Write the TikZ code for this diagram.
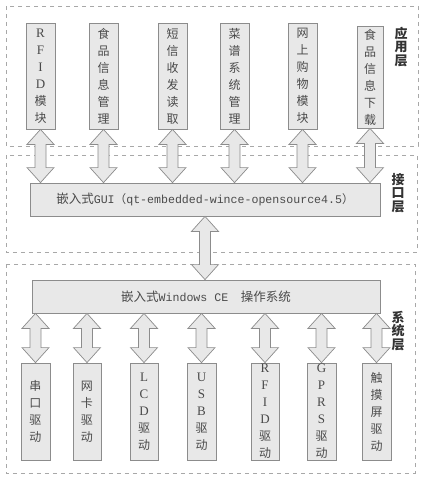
\documentclass[tikz,border=0pt]{standalone}
\usepackage{fontspec}
\setmainfont{Liberation Serif}
\newfontfamily\cjk{Noto Sans CJK SC}
\newfontfamily\monof{Liberation Mono}
\usetikzlibrary{calc}
\definecolor{boxfill}{HTML}{E8E8E8}
\definecolor{boxline}{HTML}{8C8C8C}
\definecolor{txt}{HTML}{4A4A4A}
\definecolor{layerline}{HTML}{A8A8A8}
\newcommand\lat[1]{{\rmfamily\fontsize{13}{17}\selectfont #1}}
\tikzset{
  vbox/.style={draw=boxline, fill=boxfill, line width=0.8pt, inner sep=0pt, align=center,
    minimum width=29pt, minimum height=106pt, text=txt, font=\fontsize{12}{17}\selectfont\cjk},
  hbox/.style={draw=boxline, fill=boxfill, line width=0.8pt, inner sep=0pt,
    minimum height=33pt, text=txt},
  dblarrow/.style={draw=boxline, fill=boxfill, line width=0.7pt, line join=miter},
  layer/.style={draw=layerline, dash pattern=on 4pt off 4pt, line width=0.6pt},
  layerlabel/.style={align=center, inner sep=0pt, text=black!80, font=\fontsize{13}{13.5}\selectfont\cjk\bfseries}
}
\newcommand\dbl[2]{%
  \draw[dblarrow] let \p1=(#1), \p2=(#2) in
    (\x1,\y1) -- (\x1+13.5pt,\y1-15pt) -- (\x1+5.5pt,\y1-15pt) -- (\x1+5.5pt,\y2+15pt)
    -- (\x1+13.5pt,\y2+15pt) -- (\x1,\y2) -- (\x1-13.5pt,\y2+15pt) -- (\x1-5.5pt,\y2+15pt)
    -- (\x1-5.5pt,\y1-15pt) -- (\x1-13.5pt,\y1-15pt) -- cycle;}
\begin{document}
\begin{tikzpicture}[x=1pt,y=-1pt]
\useasboundingbox[fill=white] (0,0) rectangle (424,483);
% layers
\draw[layer] (6,6) rectangle (418,146);
\draw[layer] (6,155) rectangle (417,252);
\draw[layer] (6,264) rectangle (415,473);
% application layer boxes
\node[vbox] (a1) at (40.5,76) {\lat{R}\\\lat{F}\\\lat{I}\\\lat{D}\\模\\块};
\node[vbox] (a2) at (103.5,76) {食\\品\\信\\息\\管\\理};
\node[vbox] (a3) at (172.5,76) {短\\信\\收\\发\\读\\取};
\node[vbox] (a4) at (234.5,76) {菜\\谱\\系\\统\\管\\理};
\node[vbox] (a5) at (302.5,76) {网\\上\\购\\物\\模\\块};
\node[vbox, minimum width=26pt, minimum height=102pt] (a6) at (370,77) {食\\品\\信\\息\\下\\载};
\node[layerlabel] (l1) at (401,47) {应\\用\\层};
% interface layer
\node[hbox, minimum width=350pt] (gui) at (205,199.5)
  {\fontsize{12.5}{14}\selectfont{\cjk 嵌入式}\monof\fontsize{11.6}{14}\selectfont GUI{\cjk （}qt-embedded-wince-opensource4.5{\cjk ）}};
\node[layerlabel] (l2) at (398,193) {接\\口\\层};
% system layer
\node[hbox, minimum width=348pt] (os) at (206,296.5)
  {\fontsize{12.5}{14}\selectfont{\cjk 嵌入式}{\monof\fontsize{11.6}{14}\selectfont Windows CE}{\cjk 　操作系统}};
\node[layerlabel] (l3) at (398,331) {系\\统\\层};
\node[vbox, minimum height=97pt] (d1) at (35.5,411.5) {串\\口\\驱\\动};
\node[vbox, minimum height=97pt, minimum width=28pt] (d2) at (87,411.5) {网\\卡\\驱\\动};
\node[vbox, minimum height=97pt, minimum width=28pt] (d3) at (144,411.5) {\lat{L}\\\lat{C}\\\lat{D}\\驱\\动};
\node[vbox, minimum height=97pt] (d4) at (201.5,411.5) {\lat{U}\\\lat{S}\\\lat{B}\\驱\\动};
\node[vbox, minimum height=97pt, minimum width=28pt] (d5) at (265,411.5) {\lat{R}\\\lat{F}\\\lat{I}\\\lat{D}\\驱\\动};
\node[vbox, minimum height=97pt] (d6) at (321.5,411.5) {\lat{G}\\\lat{P}\\\lat{R}\\\lat{S}\\驱\\动};
\node[vbox, minimum height=97pt] (d7) at (376.5,411.5) {触\\摸\\屏\\驱\\动};
% arrows
\foreach \nm in {a1,a2,a3,a4,a5,a6} {\dbl{\nm.south}{\nm.south |- gui.north}}
\dbl{gui.south}{os.north}
\foreach \nm in {d1,d2,d3,d4,d5,d6,d7} {\dbl{os.south -| \nm.north}{\nm.north}}
\end{tikzpicture}
\end{document}
